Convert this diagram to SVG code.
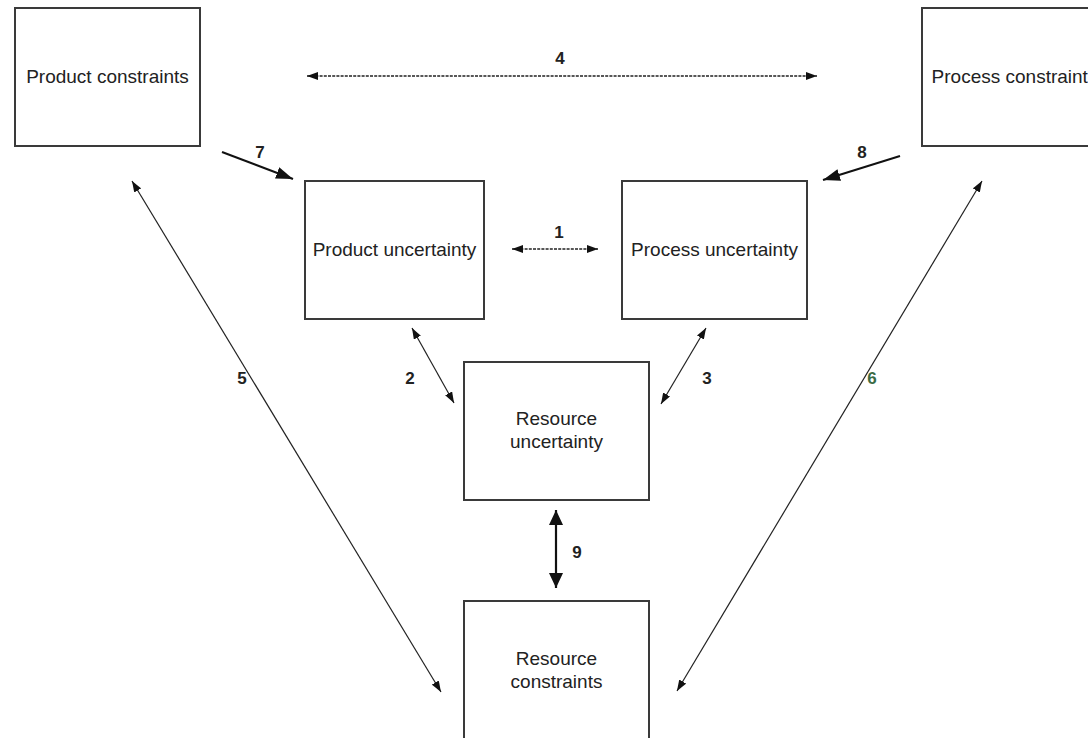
<svg xmlns="http://www.w3.org/2000/svg" width="1088" height="738" viewBox="0 0 1088 738">
<style>
.box{fill:#fff;stroke:#3a3a3a;stroke-width:2}
.txt{font-family:"Liberation Sans",Arial,sans-serif;font-size:19px;fill:#222;text-anchor:middle}
.lbl{font-family:"Liberation Sans",Arial,sans-serif;font-size:17px;font-weight:bold;fill:#222;text-anchor:middle}
.thin{stroke:#222;stroke-width:1.2;fill:none}
.dash{stroke:#222;stroke-width:1.5;fill:none;stroke-dasharray:3 1.2}
.mid{stroke:#111;stroke-width:2;fill:none}
.thick{stroke:#111;stroke-width:2.2;fill:none}
</style>
<defs>
<marker id="ms" markerUnits="userSpaceOnUse" markerWidth="12" markerHeight="8" refX="11" refY="4" orient="auto-start-reverse"><path d="M0,0 L11,4 L0,8 z" fill="#111"/></marker>
<marker id="mm" markerUnits="userSpaceOnUse" markerWidth="18" markerHeight="12" refX="17" refY="6" orient="auto-start-reverse"><path d="M0,0 L17,6 L0,12 z" fill="#111"/></marker>
<marker id="ml" markerUnits="userSpaceOnUse" markerWidth="16" markerHeight="14" refX="15" refY="7" orient="auto-start-reverse"><path d="M0,0 L15,7 L0,14 z" fill="#111"/></marker>
</defs>
<rect width="1088" height="738" fill="#fff"/>
<g id="connectors">
<line class="dash" x1="307" y1="76" x2="817" y2="76" marker-start="url(#ms)" marker-end="url(#ms)"/>
<line class="dash" x1="512" y1="249" x2="598" y2="249" marker-start="url(#ms)" marker-end="url(#ms)"/>
<line class="mid" x1="222" y1="152" x2="293" y2="179" marker-end="url(#mm)"/>
<line class="mid" x1="900" y1="156" x2="823" y2="180" marker-end="url(#mm)"/>
<line class="thin" x1="412" y1="328" x2="454" y2="403" marker-start="url(#ms)" marker-end="url(#ms)"/>
<line class="thin" x1="706" y1="328" x2="661" y2="404" marker-start="url(#ms)" marker-end="url(#ms)"/>
<line class="thin" x1="132" y1="181" x2="441" y2="692" marker-start="url(#ms)" marker-end="url(#ms)"/>
<line class="thin" x1="982" y1="181" x2="677" y2="691" marker-start="url(#ms)" marker-end="url(#ms)"/>
<line class="thick" x1="556" y1="510" x2="556" y2="588" marker-start="url(#ml)" marker-end="url(#ml)"/>
<text class="lbl" x="560" y="64">4</text>
<text class="lbl" x="559" y="238">1</text>
<text class="lbl" x="260" y="158">7</text>
<text class="lbl" x="862" y="158">8</text>
<text class="lbl" x="410" y="384">2</text>
<text class="lbl" x="707" y="384">3</text>
<text class="lbl" x="242" y="384">5</text>
<text class="lbl" x="872" y="384" fill="#3b6b45" style="fill:#3b6b45">6</text>
<text class="lbl" x="577" y="558">9</text>
</g>
<g id="product-constraints">
<rect class="box" x="15" y="8" width="185" height="138"/>
<text class="txt" x="107.5" y="83">Product constraints</text>
</g>
<g id="process-constraints">
<rect class="box" x="922" y="8" width="185" height="138"/>
<text class="txt" x="1014.5" y="83">Process constraints</text>
</g>
<g id="product-uncertainty">
<rect class="box" x="305" y="181" width="179" height="138"/>
<text class="txt" x="394.5" y="256">Product uncertainty</text>
</g>
<g id="process-uncertainty">
<rect class="box" x="622" y="181" width="185" height="138"/>
<text class="txt" x="714.5" y="256">Process uncertainty</text>
</g>
<g id="resource-uncertainty">
<rect class="box" x="464" y="362" width="185" height="138"/>
<text class="txt" x="556.5" y="425">Resource</text>
<text class="txt" x="556.5" y="448">uncertainty</text>
</g>
<g id="resource-constraints">
<rect class="box" x="464" y="601" width="185" height="160"/>
<text class="txt" x="556.5" y="665">Resource</text>
<text class="txt" x="556.5" y="688">constraints</text>
</g>
</svg>
